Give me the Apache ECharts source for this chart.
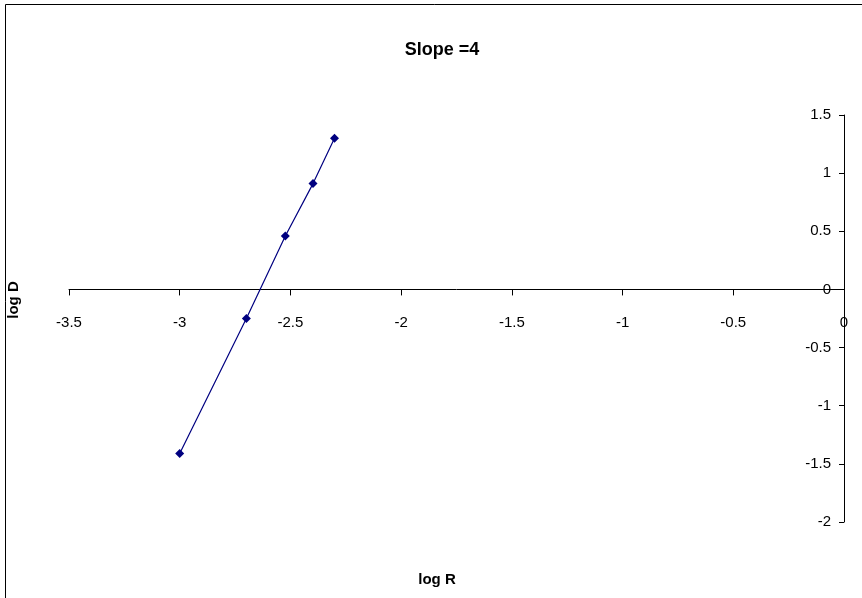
<!DOCTYPE html>
<html>
<head>
<meta charset="utf-8">
<script src="https://cdn.jsdelivr.net/npm/echarts@6/dist/echarts.min.js"></script>
<style>
html,body{margin:0;padding:0;background:#fff;}
#chart{width:862px;height:598px;}
</style>
</head>
<body>
<div id="chart"></div>
<script>
var titleText = 'Slope =4';
var xName = 'log R';
var yName = 'log D';
var logR = [-3, -2.699, -2.523, -2.398, -2.301];
var logD = [-1.41, -0.25, 0.46, 0.91, 1.30];
var xMin = -3.5, xMax = 0, xStep = 0.5;
var yMin = -2, yMax = 1.5, yStep = 0.5;

var points = logR.map(function (v, i) { return [v, logD[i]]; });
var font = 'Liberation Sans, Arial, sans-serif';

var gridTop = 115, gridBottom = 76, H = 598;
var gridH = H - gridTop - gridBottom;
// distance of the zero line from the bottom of the grid, from the y scale
var zeroFromBottom = gridH * (0 - yMin) / (yMax - yMin);

var chart = echarts.init(document.getElementById('chart'), null, {renderer: 'canvas'});
chart.setOption({
  animation: false,
  backgroundColor: '#ffffff',
  title: {
    text: titleText,
    left: 437, top: 36,
    textAlign: 'center',
    textStyle: {fontFamily: font, fontSize: 18, fontWeight: 'bold', color: '#000'}
  },
  grid: {left: 69, right: 18, top: gridTop, bottom: gridBottom},
  xAxis: {
    type: 'value', min: xMin, max: xMax, interval: xStep,
    position: 'bottom',
    offset: -zeroFromBottom,
    axisLine: {show: true, onZero: false, lineStyle: {color: '#000', width: 1}},
    axisTick: {show: true, inside: false, length: 6, lineStyle: {color: '#000', width: 1}},
    axisLabel: {margin: 26, fontFamily: font, fontSize: 15, color: '#000'},
    splitLine: {show: false}
  },
  yAxis: {
    type: 'value', min: yMin, max: yMax, interval: yStep,
    position: 'right',
    axisLine: {show: true, onZero: false, lineStyle: {color: '#000', width: 1}},
    axisTick: {show: true, inside: true, length: 5, lineStyle: {color: '#000', width: 1}},
    axisLabel: {inside: true, margin: 13, fontFamily: font, fontSize: 15, color: '#000'},
    splitLine: {show: false}
  },
  series: [{
    type: 'line',
    data: points,
    symbol: 'diamond',
    symbolSize: 9,
    itemStyle: {color: '#000080'},
    lineStyle: {color: '#000080', width: 1.2},
    z: 5
  }],
  graphic: [
    {type: 'rect', shape: {x: 5.5, y: 4.5, width: 900, height: 700},
     style: {fill: 'none', stroke: '#000', lineWidth: 1}, silent: true, z: -1},
    {type: 'text', style: {text: xName, font: 'bold 15px ' + font, fill: '#000', x: 437, y: 580, textAlign: 'center', textVerticalAlign: 'middle'}},
    {type: 'text', rotation: Math.PI / 2, x: 14, y: 300, style: {text: yName, font: 'bold 15px ' + font, fill: '#000', textAlign: 'center', textVerticalAlign: 'middle'}}
  ]
});
</script>
</body>
</html>
